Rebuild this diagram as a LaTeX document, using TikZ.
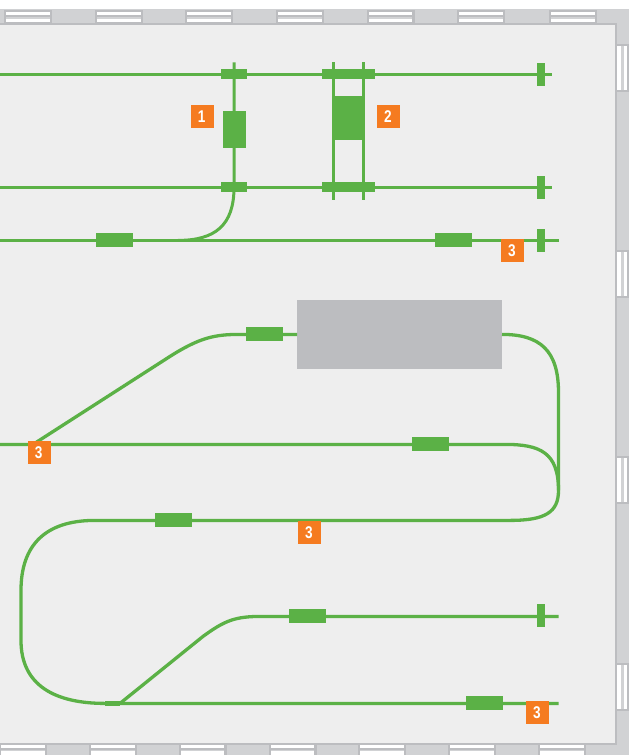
\documentclass[tikz,border=0pt]{standalone}
\usepackage{fontspec}
\setmainfont{Liberation Sans}
\definecolor{room}{HTML}{EEEEEE}
\definecolor{wall}{HTML}{D1D2D4}
\definecolor{edge}{HTML}{BCBDC0}
\definecolor{track}{HTML}{5BB146}
\definecolor{tag}{HTML}{F57B20}
\tikzset{
  rail/.style={draw=track,line width=3.3pt},
  thinrail/.style={draw=track,line width=3pt},
  block/.style={fill=track,draw=none,minimum width=#1,inner sep=0pt,outer sep=0pt,minimum height=14pt},
  clamp/.style={fill=track,draw=none,minimum width=#1,inner sep=0pt,outer sep=0pt,minimum height=10pt},
  stopper/.style={fill=track,draw=none,minimum width=8pt,minimum height=23pt,inner sep=0pt,outer sep=0pt},
  tagbox/.style={fill=tag,text=white,minimum size=23pt,inner sep=0pt,outer sep=0pt,font=\fontsize{17}{17}\selectfont\bfseries},
  machine/.style={fill=#1,draw=none,inner sep=0pt,outer sep=0pt}
}
\newcommand{\tagtext}[1]{\scalebox{.8}[1]{#1}}
\begin{document}
\begin{tikzpicture}[x=1pt,y=-1pt]
\useasboundingbox (0,0) rectangle (629,755);
\fill[white] (0,0) rectangle (629,755);
% walls
\fill[wall] (0,9) rectangle (629,755);
\fill[edge!70!white] (0,8.5) rectangle (629,10);
\fill[room] (0,24) rectangle (615,743);
\draw[edge,line width=2pt] (0,23.6) -- (615.6,23.6) -- (615.6,743.6) -- (0,743.6);
% top windows
\foreach \x in {6,97,187,278,368.5,459,551}{
  \fill[edge] (\x-2,10) rectangle (\x+46,24);
  \fill[white] (\x,12) rectangle (\x+43.5,22);
  \fill[edge] (\x,15) rectangle (\x+43.5,17);
  \fill[wall] (\x,17) rectangle (\x+43.5,18.5);
}
% right windows
\foreach \y in {46,252,458,665}{
  \fill[edge] (615,\y-2) rectangle (629,\y+46);
  \fill[white] (617,\y) rectangle (627.2,\y+43.5);
  \fill[wall] (621,\y) rectangle (624,\y+43.5);
}
% bottom windows
\foreach \x in {1,91,180.5,270.5,360,450,540}{
  \fill[edge] (\x-2,743) rectangle (\x+46,755);
  \fill[white] (\x,744.5) rectangle (\x+43.5,755);
  \fill[edge] (\x,748) rectangle (\x+43.5,749.5);
  \fill[wall] (\x,749.5) rectangle (\x+43.5,751);
}
% machine
\node[machine=edge,minimum width=205pt,minimum height=69pt] (mach) at (399.5,334.5) {};
\begin{scope}[yshift=-0.4pt]
% free ends of the tracks
\coordinate (a0) at (0,74);   \coordinate (a1) at (551.5,74);
\coordinate (b0) at (0,187);  \coordinate (b1) at (551.5,187);
\coordinate (c0) at (0,240);  \coordinate (c1) at (558.5,240);
\coordinate (d0) at (0,444);
\coordinate (v1t) at (234,62); \coordinate (v2t) at (333.5,62); \coordinate (v2b) at (333.5,199.5);
\coordinate (v3t) at (363.5,62); \coordinate (v3b) at (363.5,199.5);
\coordinate (f1) at (558.5,616); \coordinate (g1) at (558.5,703);
\coordinate (mj) at (558.5,490);
\coordinate (splitA) at (33,444);
\coordinate (splitB) at (120,703);
% verticals
\draw[thinrail] (v1t) -- (234,187) .. controls (234,225) and (215,240) .. (178,240);
\draw[thinrail] (v2t) -- (v2b);
\draw[thinrail] (v3t) -- (v3b);
% straight tracks
\draw[rail] (a0) -- (a1);
\draw[rail] (b0) -- (b1);
\draw[rail] (c0) -- (c1);
% loop
\draw[rail] (mach.east |- 0,334) .. controls (540,334) and (558.5,350) .. (558.5,392) -- (mj)
  .. controls (558.5,512) and (545,520) .. (510,520) -- (95,520)
  .. controls (45,520) and (21,545) .. (21,590) -- (21,640)
  .. controls (21,685) and (55,703) .. (105,703) -- (g1);
\draw[rail] (d0) -- (505,444) .. controls (540,444) and (558.5,452) .. (mj);
\draw[rail] (splitA) -- (170,356) .. controls (200,337) and (215,334) .. (240,334) -- (mach.west |- 0,334);
\draw[rail] (splitB) -- (203,636) .. controls (225,620) and (235,616) .. (262,616) -- (f1);
\draw[line width=4.4pt,track] (105,703) -- (splitB);
% clamps
\node[clamp=26pt] (k1) at (234,74) {};
\node[clamp=26pt] (k2) at (234,187) {};
\node[clamp=53pt] (k3) at (348.5,74) {};
\node[clamp=53pt] (k4) at (348.5,187) {};
% blocks on tracks
\node[block=37pt] (s1) at (114.5,240) {};
\node[block=37pt] (s2) at (453.5,240) {};
\node[block=37pt] (s3) at (264.5,334) {};
\node[block=37pt] (s4) at (430.5,444) {};
\node[block=37pt] (s5) at (173.5,520) {};
\node[block=37pt] (s6) at (307,615.7) {};
\node[block=37pt] (s7) at (484.5,703) {};
\end{scope}
% carriages
\node[machine=track,minimum width=23pt,minimum height=37pt] (m1) at (234,129.5) {};
\node[machine=track,minimum width=31pt,minimum height=44pt] (m2) at (348.5,118) {};
% stoppers
\node[stopper] (t1) at (541,74.5) {};
\node[stopper] (t2) at (541,187.5) {};
\node[stopper] (t3) at (541,240.5) {};
\node[stopper] (t4) at (541,615.5) {};
% labels
\node[tagbox] (l1) at (202.5,116.5) {\kern-1.5pt\tagtext{1}};
\node[tagbox] (l2) at (388.5,116.5) {\kern-1pt\tagtext{2}};
\node[tagbox] (l3) at (512.5,250.5) {\kern-1pt\tagtext{3}};
\node[tagbox] (l4) at (39.5,452.5) {\kern-1.5pt\tagtext{3}};
\node[tagbox] (l5) at (309.5,532.5) {\kern-1pt\tagtext{3}};
\node[tagbox] (l6) at (537.5,712.5) {\kern-1pt\tagtext{3}};
\end{tikzpicture}
\end{document}
